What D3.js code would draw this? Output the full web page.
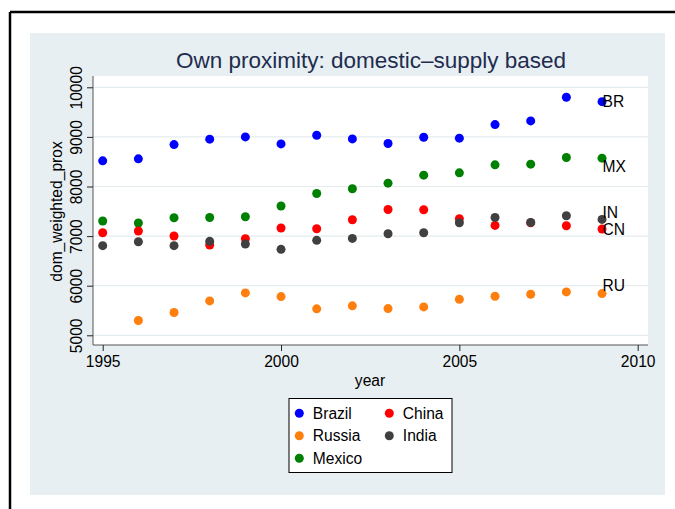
<!DOCTYPE html>
<html>
<head>
<meta charset="utf-8">
<script src="https://cdn.jsdelivr.net/npm/d3@7"></script>
<style>
  html, body { margin: 0; padding: 0; background: #ffffff; }
  svg { display: block; font-family: "Liberation Sans", Arial, sans-serif; }
</style>
</head>
<body>
<svg id="chart" width="675" height="509"></svg>
<script>
// Years on the x axis
const years = [1995, 1996, 1997, 1998, 1999, 2000, 2001, 2002, 2003, 2004, 2005, 2006, 2007, 2008, 2009];

// Domestic-supply based own proximity, by country (null = no observation)
const brazil = [8517, 8557, 8845, 8954, 9000, 8859, 9034, 8960, 8866, 8994, 8974, 9248, 9322, 9799, 9710];
const russia = [null, 5298, 5459, 5694, 5855, 5781, 5533, 5594, 5539, 5573, 5726, 5787, 5827, 5875, 5841];
const mexico = [7304, 7264, 7370, 7376, 7390, 7606, 7859, 7954, 8068, 8229, 8276, 8437, 8451, 8584, 8571];
const china  = [7068, 7103, 7002, 6821, 6948, 7163, 7149, 7330, 7537, 7531, 7350, 7215, 7270, 7209, 7143];
const india  = [6807, 6887, 6807, 6894, 6841, 6733, 6914, 6954, 7048, 7068, 7270, 7376, 7276, 7410, 7336];

const countryNames = ["Brazil", "Russia", "Mexico", "China", "India"];
const countryCodes = ["BR", "RU", "MX", "CN", "IN"];
const countryColors = ["#0000ff", "#ff7f0e", "#008000", "#ff0000", "#404040"];

const xTicks = [1995, 2000, 2005, 2010];
const yTicks = [5000, 6000, 7000, 8000, 9000, 10000];

const series = [brazil, russia, mexico, china, india];

const svg = d3.select("#chart");
const fs = 15.6;

// Outer frame (top and left rules)
svg.append("line").attr("x1", 10).attr("x2", 675).attr("y1", 12).attr("y2", 12)
  .attr("stroke", "#000").attr("stroke-width", 2.5);
svg.append("line").attr("x1", 10).attr("x2", 10).attr("y1", 12).attr("y2", 509)
  .attr("stroke", "#000").attr("stroke-width", 2.5);

// Graph region
svg.append("rect").attr("x", 30).attr("y", 33).attr("width", 635).attr("height", 462)
  .attr("fill", "#e8eff2");

// Plot region
const plot = { left: 93, right: 648, top: 76, bottom: 345 };
svg.append("rect").attr("x", plot.left).attr("y", plot.top)
  .attr("width", plot.right - plot.left).attr("height", plot.bottom - plot.top)
  .attr("fill", "#ffffff");

const x = d3.scaleLinear().domain([1995, 2010]).range([102.7, 637.7]);
const y = d3.scaleLinear().domain([5000, 10000]).range([335.3, 87.3]);

// Horizontal grid lines
svg.append("g").selectAll("line").data(yTicks).join("line")
  .attr("x1", plot.left).attr("x2", plot.right)
  .attr("y1", d => y(d)).attr("y2", d => y(d))
  .attr("stroke", "#e4ecef").attr("stroke-width", 1.2);

// Y axis
const yAxis = svg.append("g").attr("transform", `translate(${plot.left},0)`)
  .call(d3.axisLeft(y).tickValues(yTicks).tickSize(6).tickFormat(d3.format("d")));
yAxis.select(".domain").attr("d", `M0,${plot.top}V${plot.bottom}`).attr("stroke", "#555");
yAxis.selectAll(".tick line").attr("stroke", "#222");
yAxis.selectAll(".tick text")
  .attr("font-size", fs).attr("fill", "#000")
  .attr("transform", "rotate(-90)")
  .attr("x", 0).attr("y", -11.5).attr("dy", 0)
  .attr("text-anchor", "middle");

// X axis
const xAxis = svg.append("g").attr("transform", `translate(0,${plot.bottom})`)
  .call(d3.axisBottom(x).tickValues(xTicks).tickSize(6).tickFormat(d3.format("d")));
xAxis.select(".domain").attr("d", `M${plot.left},0H${plot.right}`).attr("stroke", "#555");
xAxis.selectAll(".tick line").attr("stroke", "#222");
xAxis.selectAll(".tick text").attr("font-size", fs).attr("fill", "#000").attr("y", 10.5);

// Axis titles
svg.append("text").attr("x", 370).attr("y", 386).attr("text-anchor", "middle")
  .attr("font-size", fs).attr("fill", "#000").text("year");
svg.append("text").attr("transform", "translate(62,211.5) rotate(-90)")
  .attr("text-anchor", "middle").attr("font-size", fs).attr("fill", "#000")
  .text("dom_weighted_prox");

// Title
svg.append("text").attr("x", 371).attr("y", 67.5).attr("text-anchor", "middle")
  .attr("font-size", 22.5).attr("fill", "#1e2d4e")
  .text("Own proximity: domestic\u2013supply based");

// Points
series.forEach((vals, i) => {
  svg.append("g").selectAll("circle")
    .data(years.map((yr, j) => ({ yr, v: vals[j] })).filter(d => d.v !== null))
    .join("circle")
    .attr("cx", d => x(d.yr)).attr("cy", d => y(d.v)).attr("r", 4.5)
    .attr("fill", countryColors[i]);
});

// End-of-series country codes
const labelOffsets = { BR: 5.5, RU: -2.5, MX: 14, CN: 6, IN: -1.5 };
series.forEach((vals, i) => {
  const last = vals[vals.length - 1];
  const code = countryCodes[i];
  svg.append("text")
    .attr("x", x(years[years.length - 1]) + 0.5)
    .attr("y", y(last) + labelOffsets[code])
    .attr("font-size", fs).attr("fill", "#000").text(code);
});

// Legend
const legend = svg.append("g");
legend.append("rect").attr("x", 289).attr("y", 398.5).attr("width", 163).attr("height", 74)
  .attr("fill", "#ffffff").attr("stroke", "#000").attr("stroke-width", 1);
const legendPos = [[299.3, 413.3], [299.3, 435.7], [299.3, 458.3], [389.3, 413.3], [389.3, 435.7]];
countryNames.forEach((name, i) => {
  const [lx, ly] = legendPos[i];
  legend.append("circle").attr("cx", lx).attr("cy", ly).attr("r", 4.5).attr("fill", countryColors[i]);
  legend.append("text").attr("x", lx + 13.5).attr("y", ly + 5.5)
    .attr("font-size", fs).attr("fill", "#000").text(name);
});
</script>
</body>
</html>
